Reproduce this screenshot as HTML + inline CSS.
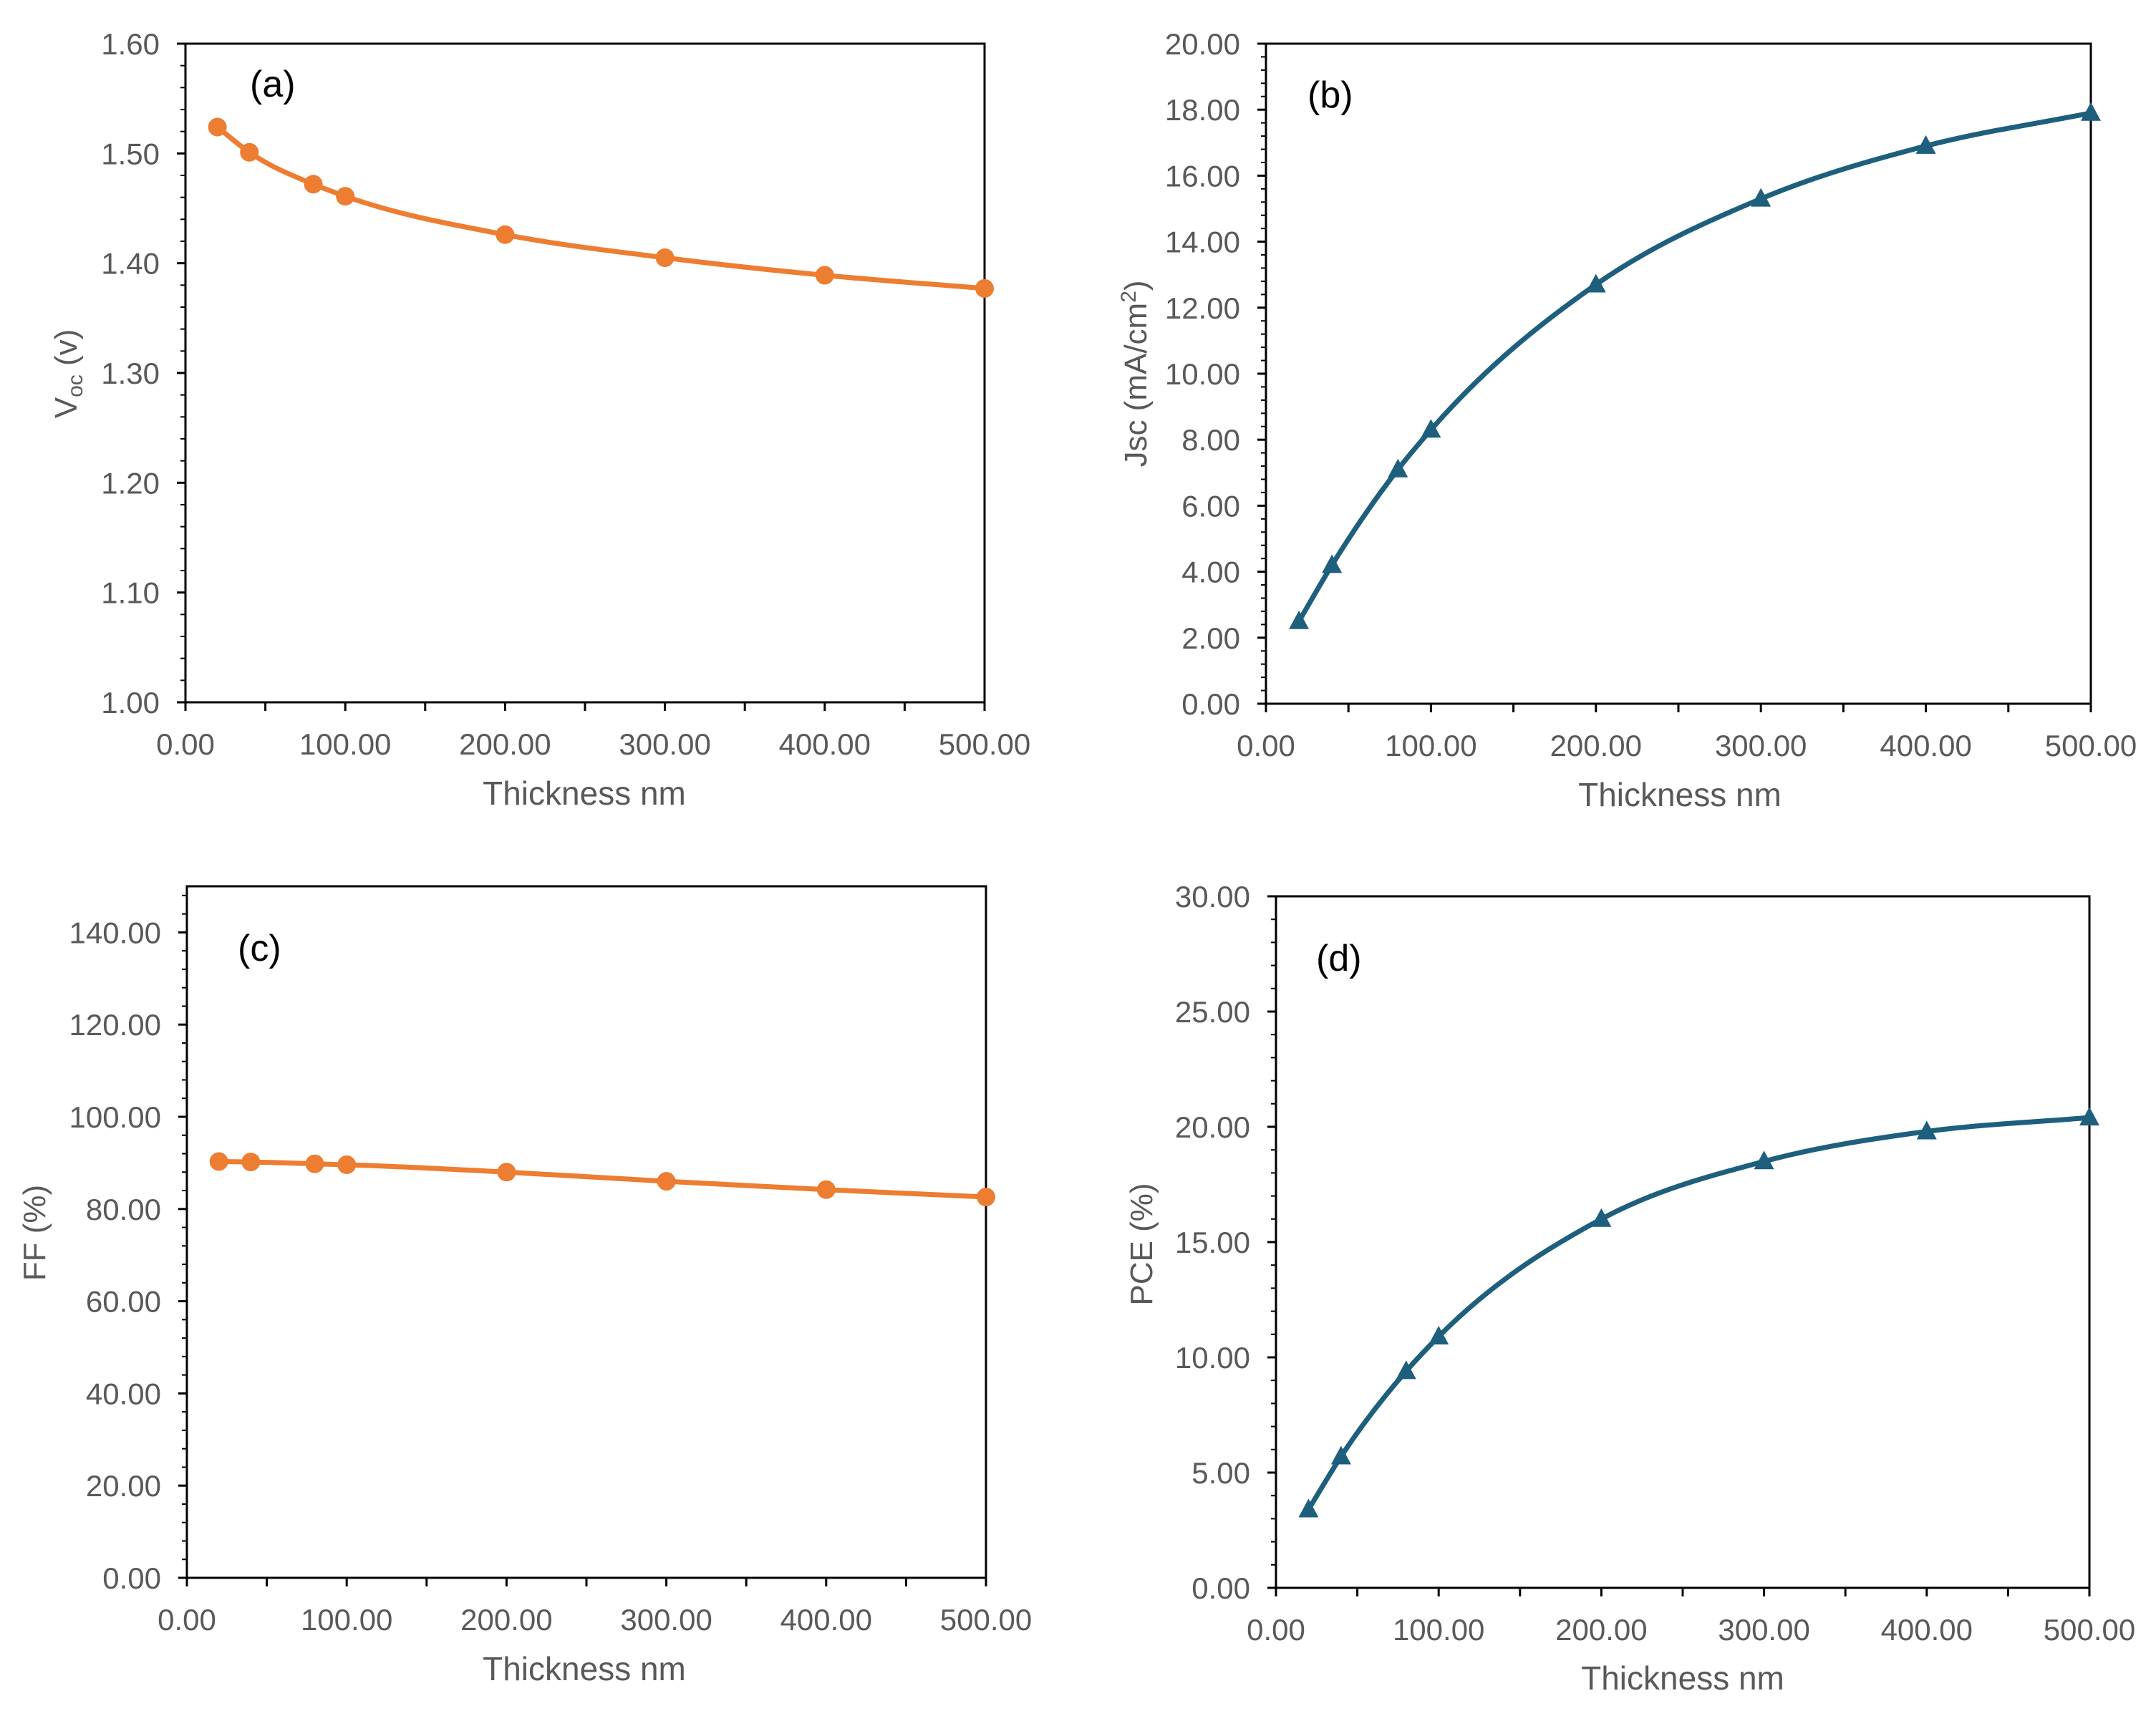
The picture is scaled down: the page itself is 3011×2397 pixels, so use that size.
<!DOCTYPE html>
<html><head><meta charset="utf-8"><style>
html,body{margin:0;padding:0;background:#fff}
svg{display:block}
text{font-family:"Liberation Sans",sans-serif;fill:#595959}
</style></head><body>
<svg id="fig" width="3011" height="2397" viewBox="0 0 3011 2397" xmlns="http://www.w3.org/2000/svg"></svg>
<script>
const thickness = [20, 40, 80, 100, 200, 300, 400, 500];
const vocValues = [1.524, 1.501, 1.472, 1.461, 1.426, 1.405, 1.389, 1.377];
const jscValues = [2.5, 4.2, 7.1, 8.3, 12.7, 15.3, 16.9, 17.9];
const ffValues = [90.3, 90.2, 89.8, 89.6, 88.0, 86.0, 84.2, 82.6];
const pceValues = [3.4, 5.7, 9.4, 10.9, 16.0, 18.5, 19.8, 20.4];
const xTickLabels = ["0.00","100.00","200.00","300.00","400.00","500.00"];

const NS = "http://www.w3.org/2000/svg";
const svg = document.getElementById('fig');
function mk(tag, attrs, parent){const e=document.createElementNS(NS,tag);for(const k in attrs)e.setAttribute(k,attrs[k]);(parent||svg).appendChild(e);return e;}

const panels = [
 {id:'a',x0:259,x1:1375,yb:981,yt:61,ymin:1.0,ymax:1.6,ystep:0.1,minor:5,dec:2,vals:vocValues,color:'#ED7D31',marker:'circle',label:'(a)',lx:349,ly:135,ytx:92,yty:522,ytitle:'voc',xtx:816,xty:1124},
 {id:'b',x0:1768,x1:2920,yb:983,yt:61,ymin:0,ymax:20,ystep:2,minor:5,dec:2,vals:jscValues,color:'#1D5F7D',marker:'tri',label:'(b)',lx:1826,ly:150,ytx:1586,yty:522,ytitle:'jsc',xtx:2346,xty:1126},
 {id:'c',x0:261,x1:1377,yb:2204,yt:1238,ymin:0,ymax:150,ystep:20,minor:5,dec:2,vals:ffValues,color:'#ED7D31',marker:'circle',label:'(c)',lx:332,ly:1342,ytx:48,yty:1722,ytitle:'FF (%)',xtx:816,xty:2347,topTick:140},
 {id:'d',x0:1782,x1:2918,yb:2218,yt:1252,ymin:0,ymax:30,ystep:5,minor:5,dec:2,vals:pceValues,color:'#1D5F7D',marker:'tri',label:'(d)',lx:1838,ly:1356,ytx:1594,yty:1738,ytitle:'PCE (%)',xtx:2350,xty:2360}
];

panels.forEach(p=>{
 const g = mk('g',{});
 
 
 const sx = v => p.x0 + (v/500)*(p.x1-p.x0);
 const sy = v => p.yb - (v-p.ymin)/(p.ymax-p.ymin)*(p.yb-p.yt);
 const frame = mk('rect',{x:p.x0,y:p.yt,width:p.x1-p.x0,height:p.yb-p.yt,fill:'none',stroke:'#000','stroke-width':3},g);
 
 
 const ytop = p.topTick!==undefined ? p.topTick : p.ymax;
 const nMaj = Math.round((ytop-p.ymin)/p.ystep);
 for(let i=0;i<=nMaj;i++){
  const v=p.ymin+i*p.ystep, y=sy(v);
  mk('line',{x1:p.x0-12,y1:y,x2:p.x0,y2:y,stroke:'#000','stroke-width':3},g);
  const t=mk('text',{x:p.x0-36,y:y+15,'text-anchor':'end','font-size':42},g);
  t.textContent=v.toFixed(p.dec);
  
  
 }
 const mstep=p.ystep/p.minor;
 const nMin=Math.floor((p.ymax-p.ymin)/mstep+1e-6);
 for(let i=0;i<=nMin;i++){const y=sy(p.ymin+i*mstep);mk('line',{x1:p.x0-7,y1:y,x2:p.x0,y2:y,stroke:'#000','stroke-width':2},g);}
 for(let v=0;v<=500;v+=50){const x=sx(v);mk('line',{x1:x,y1:p.yb,x2:x,y2:p.yb+12,stroke:'#000','stroke-width':3},g);}
 xTickLabels.forEach((lab,i)=>{
  const t=mk('text',{x:sx(i*100),y:p.yb+73,'text-anchor':'middle','font-size':42},g);
  t.textContent=lab;
  
  
 });
 const xt=mk('text',{x:p.xtx,y:p.xty,'text-anchor':'middle','font-size':46},g);
 xt.textContent='Thickness nm';
 
 
 const yt=mk('text',{x:0,y:0,'text-anchor':'middle','font-size':44,transform:`translate(${p.ytx+15},${p.yty}) rotate(-90)`},g);
 
 
 if(p.ytitle==='voc'){yt.innerHTML='V<tspan font-size="30" dy="8">oc</tspan><tspan dy="-8"> (v)</tspan>';}
 else if(p.ytitle==='jsc'){yt.innerHTML='Jsc (mA/cm<tspan font-size="30" dy="-15">2</tspan><tspan dy="15">)</tspan>';}
 else yt.textContent=p.ytitle;
 const pl=mk('text',{x:p.lx,y:p.ly,'font-size':52,style:'fill:#000'},g);
 pl.textContent=p.label;
 
 
 // smooth curve: cubic Hermite with finite-difference slopes in data space
 const xs=thickness, ys=p.vals, n=xs.length;
 const m=[];
 for(let i=0;i<n;i++){
  if(i===0) m.push((ys[1]-ys[0])/(xs[1]-xs[0]));
  else if(i===n-1) m.push((ys[n-1]-ys[n-2])/(xs[n-1]-xs[n-2]));
  else {
   const s0=(ys[i]-ys[i-1])/(xs[i]-xs[i-1]), s1=(ys[i+1]-ys[i])/(xs[i+1]-xs[i]);
   const h0=xs[i]-xs[i-1], h1=xs[i+1]-xs[i];
   m.push((s0*h1+s1*h0)/(h0+h1));
  }
 }
 let d=`M${sx(xs[0])},${sy(ys[0])}`;
 for(let i=0;i<n-1;i++){
  const h=xs[i+1]-xs[i];
  d+=` C${sx(xs[i]+h/3)},${sy(ys[i]+m[i]*h/3)} ${sx(xs[i+1]-h/3)},${sy(ys[i+1]-m[i+1]*h/3)} ${sx(xs[i+1])},${sy(ys[i+1])}`;
 }
 const line=mk('path',{d:d,fill:'none',stroke:p.color,'stroke-width':7},g);
 
 
 thickness.forEach((t,i)=>{
  const px=sx(t), py=sy(p.vals[i]);
  let mkEl;
  if(p.marker==='circle') mkEl=mk('circle',{cx:px,cy:py,r:13,fill:p.color},g);
  else mkEl=mk('polygon',{points:`${px},${py-15} ${px-14},${py+11} ${px+14},${py+11}`,fill:p.color},g);
  
  
 });
});
</script>
</body></html>
